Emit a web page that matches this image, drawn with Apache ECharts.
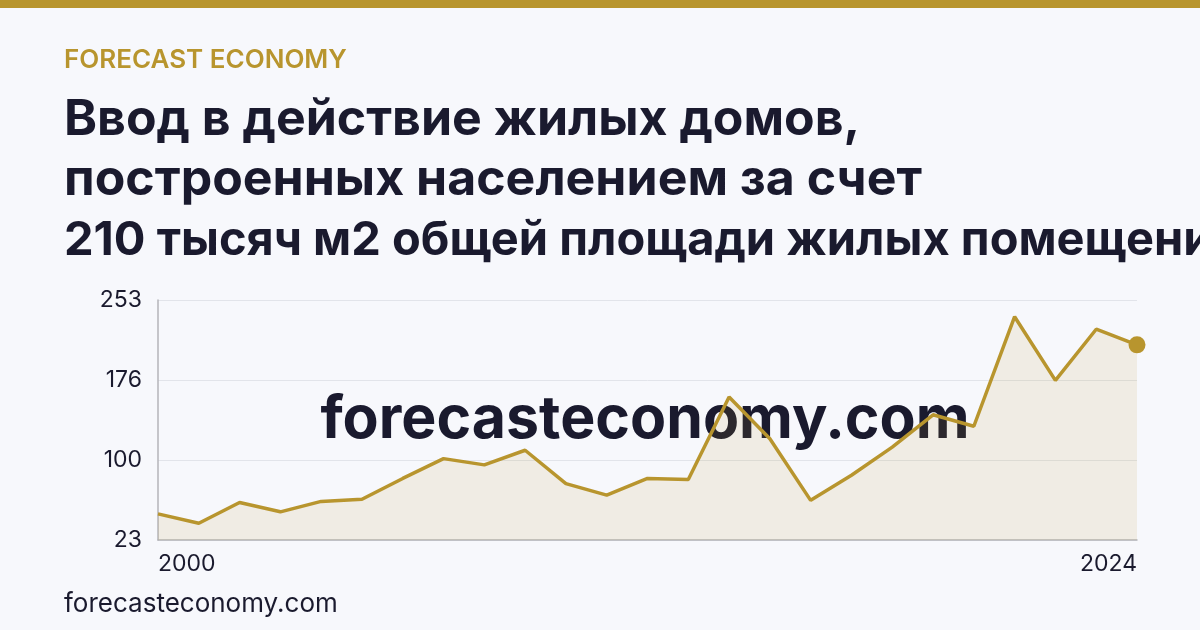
<!DOCTYPE html>
<html>
<head>
<meta charset="utf-8">
<script src="https://cdn.jsdelivr.net/npm/echarts@6/dist/echarts.min.js"></script>
<style>
html,body{margin:0;padding:0;background:#f7f8fc;}
#chart{width:1200px;height:630px;}
</style>
</head>
<body>
<div id="chart"></div>
<script>
const years = ['2000','2001','2002','2003','2004','2005','2006','2007','2008','2009','2010','2011','2012','2013','2014','2015','2016','2017','2018','2019','2020','2021','2022','2023','2024'];
const values = [48, 39, 59, 50, 60, 62, 82, 101, 95, 109, 77, 66, 82, 81, 160, 120, 61, 85, 112, 143, 132, 237, 176, 225, 210];
const yMin = 23;
const yMax = 253;
const brand = 'FORECAST ECONOMY';
const titleText = 'Ввод в действие жилых домов,\nпостроенных населением за счет';
const subtitleText = '210 тысяч м2 общей площади жилых помещений';
const site = 'forecasteconomy.com';

const gold = '#b8952e';
const ink = '#1a1a2e';
const font = 'Inter, "Noto Sans", sans-serif';

const chart = echarts.init(document.getElementById('chart'), null, {renderer: 'canvas'});
const last = values.length - 1;

chart.setOption({
  backgroundColor: '#f7f8fc',
  animation: false,
  title: [
    {
      text: brand, left: 64, top: 46, padding: 0,
      textStyle: {color: gold, fontFamily: font, fontSize: 26, fontWeight: 600, lineHeight: 28}
    },
    {
      text: titleText, left: 64, top: 90, padding: 0,
      textStyle: {color: ink, fontFamily: font, fontSize: 50, fontWeight: 700, lineHeight: 60}
    },
    {
      text: subtitleText, left: 64, top: 211, padding: 0,
      textStyle: {color: ink, fontFamily: font, fontSize: 47, fontWeight: 700, lineHeight: 60}
    },
    {
      text: site, left: 64, top: 590, padding: 0,
      textStyle: {color: ink, fontFamily: font, fontSize: 26, fontWeight: 400, lineHeight: 28}
    }
  ],
  graphic: [
    {type: 'rect', left: 0, top: 0, shape: {width: 1200, height: 8}, style: {fill: gold}, z: 10},
    {
      type: 'text', x: 645, y: 420, z: 0,
      style: {text: site, fill: ink, font: '700 59px ' + font, align: 'center', verticalAlign: 'middle'}
    }
  ],
  grid: {left: 158, right: 63, top: 300, bottom: 90, containLabel: false},
  xAxis: {
    type: 'category',
    data: years,
    boundaryGap: false,
    axisLine: {show: true, lineStyle: {color: '#b5b5ba', width: 1.5}},
    axisTick: {show: false},
    axisLabel: {
      color: ink, fontFamily: font, fontSize: 23, margin: 13,
      interval: (i) => i === 0 || i === last,
      alignMinLabel: 'left', alignMaxLabel: 'right'
    },
    splitLine: {show: false}
  },
  yAxis: {
    type: 'value',
    min: yMin, max: yMax, interval: (yMax - yMin) / 3,
    axisLine: {show: true, lineStyle: {color: '#b5b5ba', width: 1.5}},
    axisTick: {show: false},
    axisLabel: {
      color: ink, fontFamily: font, fontSize: 23, margin: 16,
      formatter: (v) => String(Math.round(v))
    },
    splitLine: {show: true, lineStyle: {color: '#e2e4ea', width: 1}}
  },
  series: [{
    type: 'line',
    data: values.map((v, i) => i === last ? {value: v, symbol: 'circle', symbolSize: 17, itemStyle: {color: gold}} : v),
    symbol: 'none',
    lineStyle: {color: gold, width: 3.5},
    areaStyle: {color: 'rgba(184,149,46,0.16)'},
    itemStyle: {color: gold},
    z: 2
  }]
});
</script>
</body>
</html>
